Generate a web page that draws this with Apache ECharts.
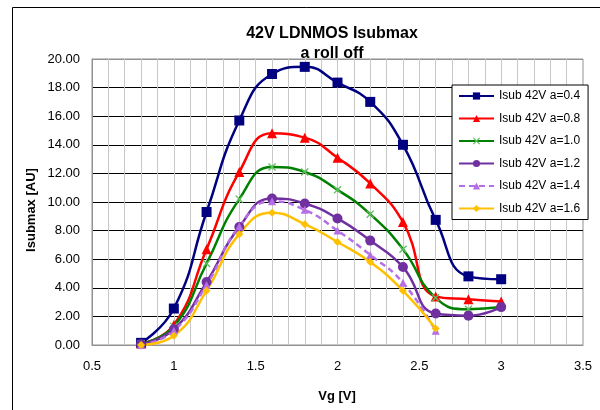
<!DOCTYPE html>
<html>
<head>
<meta charset="utf-8">
<script src="https://cdn.jsdelivr.net/npm/echarts@6/dist/echarts.min.js"></script>
<style>
  html, body { margin: 0; padding: 0; background: #fff; }
  #chart { width: 600px; height: 410px; }
</style>
</head>
<body>
<div id="chart"></div>
<script>
  // Vg sweep (V)
  const vg = [0.8, 1.0, 1.2, 1.4, 1.6, 1.8, 2.0, 2.2, 2.4, 2.6, 2.8, 3.0];

  // Isubmax [AU] per roll-off factor a
  const isubA04 = [0.15, 2.55, 9.3, 15.7, 18.95, 19.45, 18.35, 17.0, 14.0, 8.75, 4.8, 4.6];
  const isubA08 = [0.1, 1.4, 6.7, 12.1, 14.8, 14.5, 13.1, 11.3, 8.6, 3.4, 3.2, 3.05];
  const isubA10 = [0.1, 1.3, 5.7, 10.2, 12.45, 12.1, 10.85, 9.15, 6.7, 3.3, 2.5, 2.65];
  const isubA12 = [0.05, 1.1, 4.4, 8.25, 10.25, 9.9, 8.85, 7.3, 5.45, 2.2, 2.05, 2.65];
  const isubA14 = [0.0, 1.0, 4.2, 8.3, 10.05, 9.45, 8.0, 6.3, 4.35, 1.0];
  const isubA16 = [0.0, 0.65, 3.8, 7.75, 9.25, 8.45, 7.2, 5.8, 3.8, 1.15];

  const seriesNames = ['Isub 42V a=0.4', 'Isub 42V a=0.8', 'Isub 42V a=1.0', 'Isub 42V a=1.2', 'Isub 42V a=1.4', 'Isub 42V a=1.6'];

  const font = "'Liberation Sans', Arial, sans-serif";
  const xMark = 'path://M0,1.2L1.2,0L10,8.8L8.8,10Z M8.8,0L10,1.2L1.2,10L0,8.8Z';

  function pairs(ys) {
    return ys.map((y, i) => [vg[i], y]);
  }

  function makeSeries(name, ys, color, symbol, size, extra) {
    let s = {
      name: name,
      type: 'line',
      smooth: 0.5,
      data: pairs(ys),
      symbol: symbol,
      symbolSize: size,
      showAllSymbol: true,
      itemStyle: { color: color },
      lineStyle: { color: color, width: 2.5 },
      emphasis: { disabled: true },
      animation: false
    };
    return Object.assign(s, extra || {});
  }

  const chart = echarts.init(document.getElementById('chart'));

  let ySplitColors = ['#909090'];
  for (let i = 1; i < 10; i++) ySplitColors.push('#000000');
  ySplitColors.push('#909090');

  const option = {
    backgroundColor: '#ffffff',
    textStyle: { fontFamily: font },
    title: {
      text: '42V LDNMOS Isubmax\na roll off',
      left: 327,
      top: 19,
      textAlign: 'center',
      textStyle: { fontFamily: font, fontSize: 16, fontWeight: 'bold', color: '#000', lineHeight: 20 }
    },
    grid: {
      left: 92, right: 17, top: 59, bottom: 65,
      show: true,
      borderColor: '#909090',
      borderWidth: 1
    },
    xAxis: {
      type: 'value',
      min: 0.5,
      max: 3.5,
      interval: 0.5,
      axisLine: { show: true, lineStyle: { color: '#909090' } },
      axisTick: { show: false },
      minorTick: { show: false, splitNumber: 5 },
      splitLine: { show: true, lineStyle: { color: '#c8c8c8' } },
      minorSplitLine: { show: true, lineStyle: { color: '#c8c8c8' } },
      axisLabel: { color: '#000', fontSize: 13, margin: 15, fontFamily: font }
    },
    yAxis: {
      type: 'value',
      min: 0,
      max: 20,
      interval: 2,
      axisLine: { show: true, lineStyle: { color: '#909090' } },
      axisTick: { show: false },
      splitLine: { show: true, lineStyle: { color: ySplitColors } },
      axisLabel: {
        color: '#000', fontSize: 13, margin: 12, fontFamily: font,
        formatter: v => v.toFixed(2)
      }
    },
    legend: {
      orient: 'vertical',
      left: 452,
      top: 85,
      data: seriesNames,
      itemWidth: 35,
      itemHeight: 9,
      itemGap: 10.5,
      padding: [5, 8, 5, 6],
      backgroundColor: '#ffffff',
      borderColor: '#000000',
      borderWidth: 1,
      borderRadius: 0,
      selectedMode: false,
      textStyle: { fontSize: 12, color: '#000', fontFamily: font }
    },
    graphic: [
      {
        type: 'rect',
        silent: true,
        shape: { x: 12.5, y: 7.5, width: 700, height: 500 },
        style: { fill: 'none', stroke: '#000', lineWidth: 1 }
      },
      {
        type: 'text',
        silent: true,
        x: 31, y: 210,
        rotation: Math.PI / 2,
        style: {
          text: 'Isubmax [AU]',
          font: 'bold 13px ' + font,
          fill: '#000',
          align: 'center',
          verticalAlign: 'middle'
        }
      },
      {
        type: 'text',
        silent: true,
        x: 337, y: 396,
        style: {
          text: 'Vg [V]',
          font: 'bold 13px ' + font,
          fill: '#000',
          align: 'center',
          verticalAlign: 'middle'
        }
      }
    ],
    series: [
      makeSeries(seriesNames[0], isubA04, '#000080', 'rect', 10),
      makeSeries(seriesNames[1], isubA08, '#ff0000', 'triangle', 10),
      makeSeries(seriesNames[2], isubA10, '#008000', xMark, 8, {
        itemStyle: { color: '#5cbf5c' }
      }),
      makeSeries(seriesNames[3], isubA12, '#7030a0', 'circle', 10),
      makeSeries(seriesNames[4], isubA14, '#b56ee6', 'triangle', 8, {
        lineStyle: { color: '#b56ee6', width: 2.5, type: [6, 4] }
      }),
      makeSeries(seriesNames[5], isubA16, '#ffc000', 'diamond', 8)
    ]
  };

  chart.setOption(option);
</script>
</body>
</html>
